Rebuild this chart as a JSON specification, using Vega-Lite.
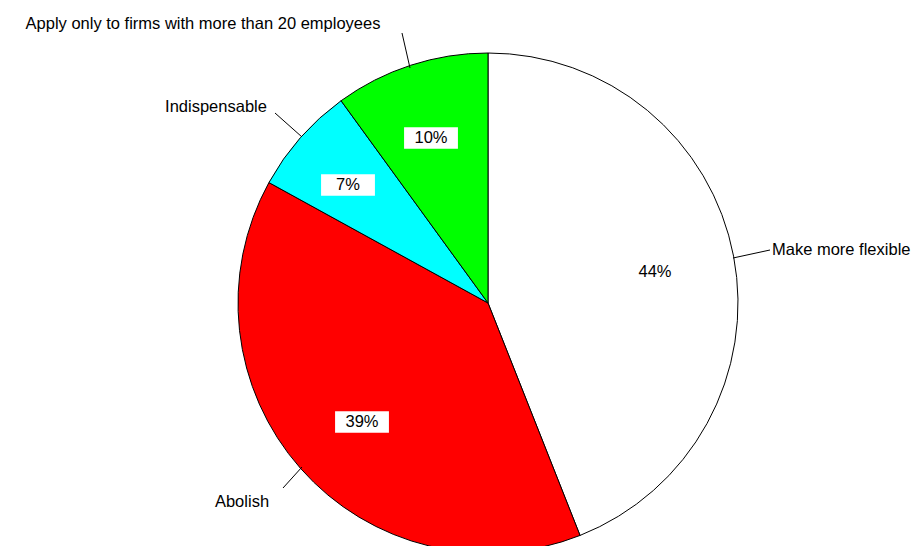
{
  "$schema": "https://vega.github.io/schema/vega-lite/v6.json",
  "width": 976,
  "height": 606,
  "padding": 0,
  "autosize": "none",
  "background": "white",
  "config": {"view": {"stroke": null}, "text": {"font": "Liberation Sans", "fontSize": 16.5}},
  "datasets": {
    "slices": [
      {"answer": "Make more flexible", "share": 44, "order": 1},
      {"answer": "Abolish", "share": 39, "order": 2},
      {"answer": "Indispensable", "share": 7, "order": 3},
      {"answer": "Apply only to firms with more than 20 employees", "share": 10, "order": 4}
    ],
    "pct": [
      {"label": "44%", "x": 0.668, "y": 0.124, "box": false},
      {"label": "39%", "x": -0.504, "y": -0.476, "box": true},
      {"label": "7%", "x": -0.56, "y": 0.472, "box": true},
      {"label": "10%", "x": -0.228, "y": 0.66, "box": true}
    ],
    "names": [
      {"label": "Make more flexible", "x": 1.128, "y": 0.212, "x0": 1.128, "y0": 0.212, "x1": 0.98, "y1": 0.18, "align": "left"},
      {"label": "Abolish", "x": -0.984, "y": -0.796, "x0": -0.82, "y0": -0.74, "x1": -0.744, "y1": -0.656, "align": "center"},
      {"label": "Indispensable", "x": -1.088, "y": 0.784, "x0": -0.852, "y0": 0.76, "x1": -0.744, "y1": 0.664, "align": "center"},
      {"label": "Apply only to firms with more than 20 employees", "x": -1.14, "y": 1.116, "x0": -0.344, "y0": 1.08, "x1": -0.312, "y1": 0.94, "align": "center"}
    ]
  },
  "layer": [
    {
      "data": {"name": "slices"},
      "mark": {"type": "arc", "outerRadius": 250, "stroke": "black", "strokeWidth": 1},
      "encoding": {
        "theta": {"field": "share", "type": "quantitative", "stack": true},
        "order": {"field": "order"},
        "color": {
          "field": "answer", "type": "nominal", "legend": null,
          "scale": {
            "domain": ["Make more flexible", "Abolish", "Indispensable", "Apply only to firms with more than 20 employees"],
            "range": ["#ffffff", "#ff0000", "#00ffff", "#00ff00"]
          }
        }
      }
    },
    {
      "data": {"name": "names"},
      "mark": {"type": "rule", "color": "black", "strokeWidth": 1},
      "encoding": {
        "x": {"field": "x0", "type": "quantitative", "scale": {"domain": [-1.952, 1.952]}, "axis": null},
        "y": {"field": "y0", "type": "quantitative", "scale": {"domain": [-1.212, 1.212]}, "axis": null},
        "x2": {"field": "x1"},
        "y2": {"field": "y1"}
      }
    },
    {
      "data": {"name": "names"},
      "transform": [{"filter": "datum.align == 'center'"}],
      "mark": {"type": "text", "color": "black", "baseline": "middle", "align": "center"},
      "encoding": {
        "x": {"field": "x", "type": "quantitative", "scale": {"domain": [-1.952, 1.952]}, "axis": null},
        "y": {"field": "y", "type": "quantitative", "scale": {"domain": [-1.212, 1.212]}, "axis": null},
        "text": {"field": "label"}
      }
    },
    {
      "data": {"name": "names"},
      "transform": [{"filter": "datum.align == 'left'"}],
      "mark": {"type": "text", "color": "black", "baseline": "middle", "align": "left", "dx": 2},
      "encoding": {
        "x": {"field": "x", "type": "quantitative", "scale": {"domain": [-1.952, 1.952]}, "axis": null},
        "y": {"field": "y", "type": "quantitative", "scale": {"domain": [-1.212, 1.212]}, "axis": null},
        "text": {"field": "label"}
      }
    },
    {
      "data": {"name": "pct"},
      "transform": [{"filter": "datum.box"}],
      "mark": {"type": "point", "shape": "M-1,-0.4H1V0.4H-1Z", "size": 2900, "filled": true, "color": "white", "opacity": 1},
      "encoding": {
        "x": {"field": "x", "type": "quantitative", "scale": {"domain": [-1.952, 1.952]}, "axis": null},
        "y": {"field": "y", "type": "quantitative", "scale": {"domain": [-1.212, 1.212]}, "axis": null}
      }
    },
    {
      "data": {"name": "pct"},
      "mark": {"type": "text", "color": "black", "baseline": "middle", "align": "center"},
      "encoding": {
        "x": {"field": "x", "type": "quantitative", "scale": {"domain": [-1.952, 1.952]}, "axis": null},
        "y": {"field": "y", "type": "quantitative", "scale": {"domain": [-1.212, 1.212]}, "axis": null},
        "text": {"field": "label"}
      }
    }
  ]
}
